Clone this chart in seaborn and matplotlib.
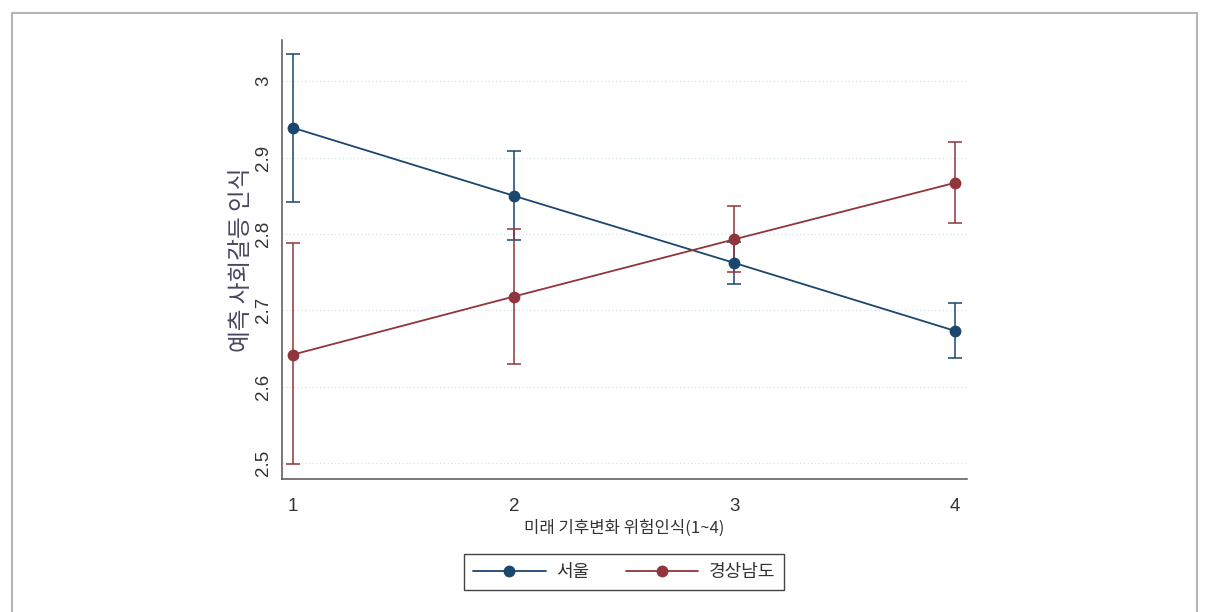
import pandas as pd
import matplotlib.pyplot as plt
import seaborn as sns
from matplotlib.patches import Rectangle

# --- Data ---
risk_levels = [1, 2, 3, 4]
groups = ['서울', '경상남도']
seoul_mean = [2.939, 2.850, 2.762, 2.673]
seoul_lo = [2.842, 2.792, 2.735, 2.637]
seoul_hi = [3.036, 2.908, 2.789, 2.710]
gn_mean = [2.642, 2.718, 2.793, 2.867]
gn_lo = [2.499, 2.630, 2.750, 2.814]
gn_hi = [2.788, 2.807, 2.837, 2.921]
y_ticks = [2.5, 2.6, 2.7, 2.8, 2.9, 3.0]
y_ticklabels = ['2.5', '2.6', '2.7', '2.8', '2.9', '3']

colors = {'서울': '#1a476f', '경상남도': '#90353b'}

df = pd.concat([
    pd.DataFrame({'risk': risk_levels, 'mean': seoul_mean, 'lo': seoul_lo, 'hi': seoul_hi, 'group': '서울'}),
    pd.DataFrame({'risk': risk_levels, 'mean': gn_mean, 'lo': gn_lo, 'hi': gn_hi, 'group': '경상남도'}),
])

sns.set_style('white')
plt.rcParams['font.family'] = ['Liberation Sans', 'Noto Sans CJK KR', 'DejaVu Sans']
kr = ['Noto Sans CJK KR', 'DejaVu Sans']

fig = plt.figure(figsize=(12.1, 6.12), dpi=100)
ax = fig.add_axes([0.2331, 0.2173, 0.5661, 0.7173])

# grid lines first
for yt in y_ticks:
    ax.axhline(yt, color='#d2e4ea', lw=0.9, ls=(0, (1, 2)), zorder=0)

# confidence intervals
for g in groups:
    sub = df[df['group'] == g]
    ax.errorbar(sub['risk'], sub['mean'],
                yerr=[sub['mean'] - sub['lo'], sub['hi'] - sub['mean']],
                fmt='none', ecolor=colors[g], elinewidth=1.1, capsize=5, capthick=1.1, zorder=2)

sns.lineplot(data=df, x='risk', y='mean', hue='group', hue_order=groups, palette=colors,
             marker='o', markersize=8.5, markeredgewidth=0, linewidth=1.3, ax=ax, legend=False, zorder=3)

ax.set_xlim(0.95, 4.054)
ax.set_ylim(2.479, 3.054)
ax.set_xticks(risk_levels)
ax.set_xticklabels([str(v) for v in risk_levels])
ax.set_yticks(y_ticks)
ax.set_yticklabels(y_ticklabels, rotation=90, va='center')
ax.tick_params(axis='both', direction='out', length=4, width=0.9, color='#555555',
               labelsize=13.5, labelcolor='#333333')
ax.tick_params(axis='y', pad=3)
ax.tick_params(axis='x', pad=10)

for s in ['top', 'right']:
    ax.spines[s].set_visible(False)
for s in ['left', 'bottom']:
    ax.spines[s].set_color('#555555')
    ax.spines[s].set_linewidth(1.1)

ax.set_xlabel('미래 기후변화 위험인식(1~4)', fontsize=12, color='#333333', family=kr, labelpad=3)
ax.set_ylabel('예측 사회갈등 인식', fontsize=17, color='#4c4560', family=kr)
ax.yaxis.set_label_coords(-0.043, 0.5)

# legend
handles = [plt.Line2D([], [], color=colors[g], marker='o', markersize=8.5, markeredgewidth=0, lw=1.3)
           for g in groups]
leg = fig.legend(handles, groups, loc='center', bbox_to_anchor=(0.516, 0.0654), ncol=2,
                 handlelength=4.0, columnspacing=2.0, handletextpad=0.6, fancybox=False,
                 framealpha=1, edgecolor='#444444', borderpad=0.5,
                 prop={'family': kr, 'size': 13})
leg.get_frame().set_linewidth(1.0)
for t in leg.get_texts():
    t.set_color('#333333')

# outer frame of the screenshot
fig.patches.append(Rectangle((12 / 1210, -0.05), 1185 / 1210, 1 - 13 / 612 + 0.05,
                             transform=fig.transFigure, fill=False, edgecolor='#b5b5b5', lw=1.5))

fig.savefig('out.png', dpi=100)
